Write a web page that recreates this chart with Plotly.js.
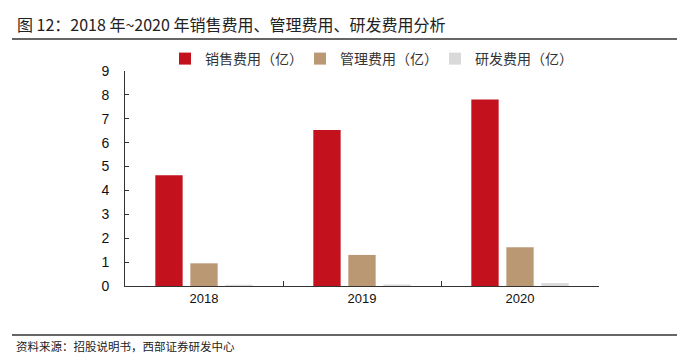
<!DOCTYPE html>
<html><head><meta charset="utf-8">
<script src="https://cdn.plot.ly/plotly-3.0.1.min.js"></script>
<style>body{margin:0;background:#fff}#c{width:677px;height:355px}</style>
</head><body><div id="c"></div>
<script>
const categories = ["2018", "2019", "2020"];
const salesExp = [4.64, 6.53, 7.81];
const adminExp = [0.95, 1.30, 1.62];
const rdExp = [0.05, 0.06, 0.12];
const seriesNames = ["销售费用（亿）", "管理费用（亿）", "研发费用（亿）"];
const colors = ["#C3111E", "#B99873", "#D9D9D9"];

const cjk = '"Noto Sans CJK SC", sans-serif';
const lat = '"Liberation Sans", Arial, sans-serif';
const W = 677, H = 355, L = 125, R = 78, T = 71, B = 69;
const pw = W - L - R, ph = H - T - B;
const px = x => (x - L) / pw;
const py = y => (H - B - y) / ph;

const traces = [salesExp, adminExp, rdExp].map((v, i) => ({
  type: "bar", x: categories, y: v, name: seriesNames[i],
  marker: {color: colors[i]}
}));

const layout = {
  width: W, height: H,
  margin: {l: L, r: R, t: T, b: B},
  paper_bgcolor: "#fff", plot_bgcolor: "#fff",
  barmode: "group", bargap: 0.335, bargroupgap: 0.22,
  showlegend: true,
  legend: {orientation: "h", x: px(165), xanchor: "left", y: py(59), yanchor: "middle",
    font: {family: cjk, size: 14, color: "#333"}, entrywidth: 90, itemwidth: 30,
    traceorder: "normal"},
  xaxis: {type: "category", showline: true, linecolor: "#333", linewidth: 1,
    ticks: "inside", tickson: "boundaries", ticklen: 5, tickcolor: "#333",
    tickfont: {family: lat, size: 13, color: "#111"}, showgrid: false, zeroline: false,
    fixedrange: true},
  yaxis: {range: [0, 9], dtick: 1, showline: true, linecolor: "#333", linewidth: 1,
    ticks: "inside", ticklen: 4, tickcolor: "#333", showgrid: false, zeroline: false,
    tickfont: {family: lat, size: 14, color: "#111"}, ticklabelstandoff: 12},
  title: {text: "图 12：2018 年~2020 年销售费用、管理费用、研发费用分析",
    x: 17 / W, xanchor: "left", xref: "container", y: 1 - 25 / H, yanchor: "middle", yref: "container",
    font: {family: cjk, size: 16, color: "#222"}},
  shapes: [
    {type: "line", xref: "paper", yref: "paper", x0: px(12), x1: px(677), y0: py(39), y1: py(39),
      line: {color: "#666", width: 2}},
    {type: "line", xref: "paper", yref: "paper", x0: px(12), x1: px(677), y0: py(335), y1: py(335),
      line: {color: "#666", width: 2}}
  ],
  annotations: [
    {text: "资料来源：招股说明书，西部证券研发中心", xref: "paper", yref: "paper",
      x: px(14), xanchor: "left", y: py(346), yanchor: "middle", showarrow: false,
      font: {family: cjk, size: 11.5, color: "#222"}}
  ]
};
Plotly.newPlot("c", traces, layout, {displayModeBar: false, staticPlot: true});
</script></body></html>
